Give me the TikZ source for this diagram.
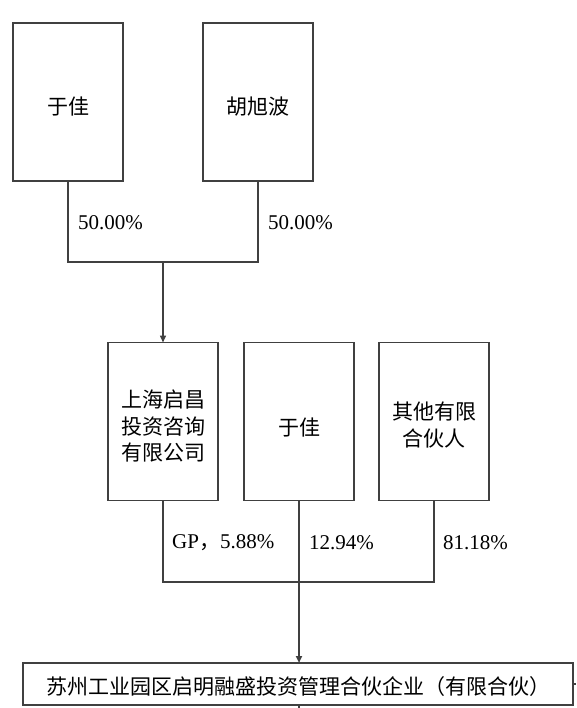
\documentclass[tikz,border=0pt]{standalone}
\usepackage{fontspec}
\setmainfont{Liberation Serif}
\newfontfamily\cjk{Noto Sans CJK SC}
\usepackage{tikz}
\usetikzlibrary{calc, positioning, arrows.meta}

\newcommand{\drop}[1]{\rule{0pt}{#1}}

\tikzset{
    holder/.style={draw=black!75, line width=1.2pt, inner sep=0, outer sep=0, align=center,
        font=\cjk\fontsize{21pt}{26.5pt}\selectfont},
    stake/.style={holder, minimum width=110pt, minimum height=158pt},
    pct/.style={anchor=west, inner sep=0, font=\fontsize{21pt}{25pt}\selectfont},
    link/.style={draw=black!75, line width=1.2pt},
    arr/.style={link, line width=1.5pt, -{Triangle[length=7pt, width=6pt]}}
}

\begin{document}
\begin{tikzpicture}[x=1pt, y=-1pt]
                    \useasboundingbox (0,0) rectangle (576,708);

                    % top shareholders
                    \node[stake] (yuA) at (68,102) {\drop{27pt}于佳};
                    \node[stake] (hu) at (258,102) {\drop{27pt}胡旭波};

                    % partners
                    \node[stake] (sh) at (163,421.5) {\drop{27pt}上海启昌\\投资咨询\\有限公司};
                    \node[stake] (yuB) at (299,421.5) {\drop{30pt}于佳};
                    \node[stake] (qt) at (434,421.5) {\drop{25pt}其他有限\\合伙人};

                    % fund
                    \node[holder, minimum width=550pt, minimum height=42pt] (sz) at (298,684) {\drop{22pt}苏州工业园区启明融盛投资管理合伙企业（有限合伙）};

                    \coordinate (j1) at (163,262);
                    \coordinate (j2) at (299,582);
                    \coordinate (cut1) at (299,708);
                    \coordinate (cut2) at (576,684);

                    \draw[link] (yuA.south) |- (j1) -| (hu.south);
                    \draw[arr] (j1) -- (sh.north);
                    \draw[link] (sh.south) |- (j2) -| (qt.south);
                    \draw[arr, line width=1.8pt] (yuB.south) -- (yuB.south |- sz.north);
                    \draw[link] (yuB.south |- sz.south) -- (cut1);
                    \draw[link] (sz.east) -- (cut2);

                    % shares
                    \foreach \n/\x/\y/\t in {1/78/223/50.00\%, 2/268/223/50.00\%, 4/309/543/12.94\%, 5/443/543/81.18\%}
                        \node[pct] (p\n) at (\x,\y) {\t};
                    \node[pct] (p3) at (172,543) {GP{\cjk ，}5.88\%};
                \end{tikzpicture}
\end{document}
